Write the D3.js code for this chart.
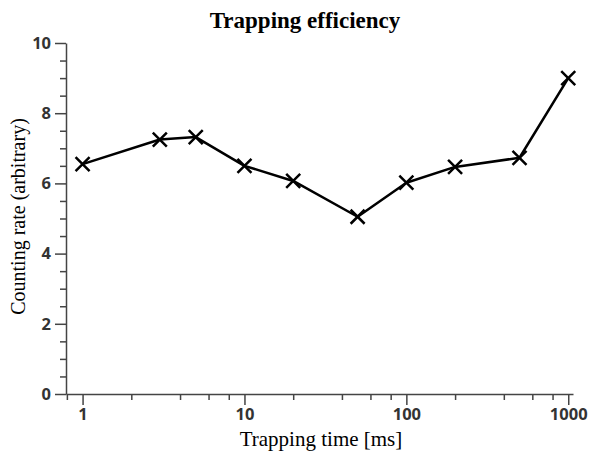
<!DOCTYPE html>
<html>
<head>
<meta charset="utf-8">
<script src="https://cdn.jsdelivr.net/npm/d3@7"></script>
<style>
	body { margin: 0; background: #fff; }
</style>
</head>
<body>
<svg id="chart" width="589" height="453"></svg>
<script>

var times  = [1, 3, 5, 10, 20, 50, 100, 200, 500, 1000],
	rates  = [6.55, 7.25, 7.32, 6.5, 6.07, 5.05, 6.02, 6.47, 6.73, 9.0];

var xMajor = [1, 10, 100, 1000],
	xMinor = [0.8, 2, 4, 6, 8, 20, 40, 60, 80, 200, 400, 600, 800],
	yMajor = [0, 2, 4, 6, 8, 10],
	yMinor = [1, 3, 5, 7, 9, 0.5, 1.5, 2.5, 3.5, 4.5, 5.5, 6.5, 7.5, 8.5, 9.5];

var data = times.map((t, i) => ({t: t, v: rates[i]}));

var svg = d3.select("#chart"),
	margin = {top: 43, bottom: 59, left: 66, right: 16},
	width = +svg.attr("width"),
	height = +svg.attr("height");

var x = d3.scaleLog()
	.domain([0.79, 1070])
	.range([margin.left, width - margin.right]);

var y = d3.scaleLinear()
	.domain([0, 10])
	.range([height - margin.bottom, margin.top]);

var axisColor = "#444";

// x axis
var gx = svg.append("g")
	.attr("transform", "translate(0," + y(0) + ")");

gx.append("g")
	.call(d3.axisBottom(x).tickValues(xMinor).tickSize(6).tickFormat("").tickSizeOuter(0))
	.call(g => g.select(".domain").remove());

gx.append("g")
	.call(d3.axisBottom(x).tickValues(xMajor).tickSize(11).tickFormat(d3.format("d")).tickSizeOuter(0))
	.call(g => g.selectAll("text")
		.attr("dy", "0.9em")
		.attr("y", 11));

// y axis
var gy = svg.append("g")
	.attr("transform", "translate(" + x(0.79) + ",0)");

gy.append("g")
	.call(d3.axisLeft(y).tickValues(yMinor).tickSize(6).tickFormat("").tickSizeOuter(0))
	.call(g => g.select(".domain").remove());

gy.append("g")
	.call(d3.axisLeft(y).tickValues(yMajor).tickSize(11).tickFormat(d3.format("d")).tickSizeOuter(0))
	.call(g => g.selectAll("text").attr("x", -15));

svg.selectAll(".tick line, .domain")
	.attr("stroke", axisColor)
	.attr("stroke-width", 1.5);

svg.selectAll(".tick text")
	.attr("fill", "#333")
	.style("font-family", "'Open Sans', sans-serif")
	.style("font-weight", "700")
	.style("font-size", "16.5px");

// line
svg.append("path")
	.datum(data)
	.attr("fill", "none")
	.attr("stroke", "#000")
	.attr("stroke-width", 2.5)
	.attr("stroke-linejoin", "round")
	.attr("d", d3.line().x(d => x(d.t)).y(d => y(d.v)));

// markers
var s = 7;
svg.append("g").selectAll("path")
	.data(data)
	.enter().append("path")
		.attr("transform", d => "translate(" + x(d.t) + "," + y(d.v) + ")")
		.attr("d", "M" + (-s) + "," + (-s) + "L" + s + "," + s + "M" + (-s) + "," + s + "L" + s + "," + (-s))
		.attr("stroke", "#000")
		.attr("stroke-width", 2.5)
		.attr("fill", "none");

// titles
svg.append("text")
	.attr("x", 305)
	.attr("y", 28)
	.attr("text-anchor", "middle")
	.style("font-family", "'Liberation Serif', 'Times New Roman', serif")
	.style("font-weight", "700")
	.style("font-size", "23px")
	.text("Trapping efficiency");

svg.append("text")
	.attr("x", 321)
	.attr("y", 446)
	.attr("text-anchor", "middle")
	.style("font-family", "'Liberation Serif', 'Times New Roman', serif")
	.style("font-size", "21px")
	.text("Trapping time [ms]");

svg.append("text")
	.attr("transform", "translate(25," + (y(5) - 2) + ") rotate(-90)")
	.attr("text-anchor", "middle")
	.style("font-family", "'Liberation Serif', 'Times New Roman', serif")
	.style("font-size", "20px")
	.text("Counting rate (arbitrary)");

</script>
</body>
</html>
